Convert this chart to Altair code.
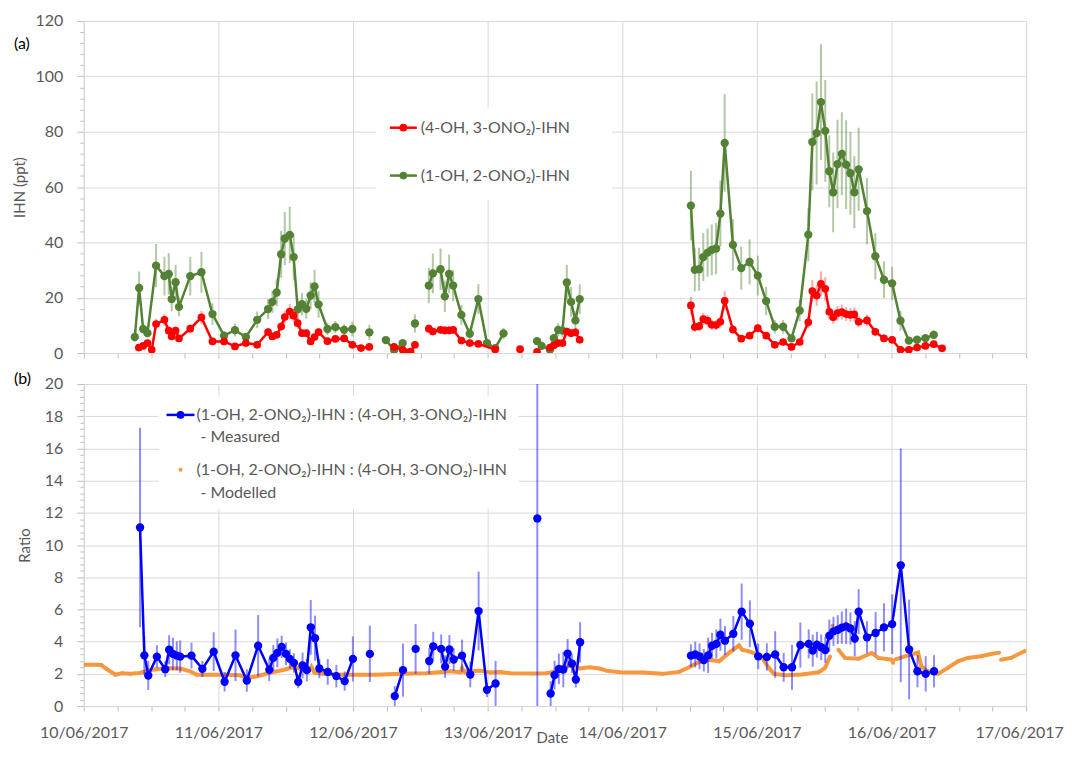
import altair as alt
import pandas as pd

FONT = "Lato"
GRAY = "#595959"
GRID = "#d9d9d9"

DATE_LABELS = ["10/06/2017", "11/06/2017", "12/06/2017", "13/06/2017",
               "14/06/2017", "15/06/2017", "16/06/2017", "17/06/2017"]

# ---------------- panel (a): IHN (ppt) ----------------
# days since 10/06/2017 00:00 ; None marks a gap in the line
RED_T = [0.409, 0.441, 0.473, 0.505, 0.537, 0.599, 0.631, 0.653, 0.682, 0.707, 0.791, 0.874, 0.956,
         1.042, 1.123, 1.204, 1.288, 1.369, 1.401, 1.433, 1.466, 1.493, 1.530, 1.559, 1.589, 1.621,
         1.653, 1.685, 1.714, 1.744, 1.810, 1.869, 1.934, 1.995, 2.059, 2.121, None,
         2.305, 2.369, 2.398, 2.428, 2.460, None,
         2.563, 2.593, 2.650, 2.682, 2.714, 2.744, 2.805, 2.867, 2.931, 3.056, None,
         3.241, None, 3.367, None,
         3.463, 3.492, 3.524, 3.556, 3.588, 3.620, 3.652, 3.684, None,
         4.510, 4.539, 4.571, 4.602, 4.634, 4.665, 4.697, 4.729, 4.761, 4.822, 4.884, 4.946, 5.007,
         5.069, 5.133, 5.195, 5.257, 5.318, 5.382, 5.412, 5.444, 5.476, 5.508, 5.538, 5.567, 5.599,
         5.631, 5.663, 5.695, 5.724, 5.756, 5.818, 5.880, 5.944, 6.005, 6.067, 6.129, 6.190, 6.252,
         6.314, 6.376]
RED_V = [2.0, 2.6, 3.6, 1.2, 10.5, 12.0, 8.1, 6.0, 8.1, 5.3, 8.8, 12.9, 4.2,
         4.2, 2.4, 3.6, 3.0, 7.6, 6.0, 6.6, 9.6, 13.0, 15.0, 13.5, 10.8, 7.2,
         7.2, 4.2, 5.8, 7.6, 4.3, 5.1, 5.3, 3.0, 1.8, 2.2, None,
         2.2, 1.2, 0.3, 0.5, 3.0, None,
         8.8, 7.8, 8.4, 8.2, 8.2, 8.4, 4.5, 3.6, 3.3, 1.3, None,
         1.4, None, 0.4, None,
         2.0, 2.8, 3.6, 3.6, 7.8, 7.2, 7.5, 4.8, None,
         17.2, 9.4, 9.7, 12.3, 11.7, 10.2, 10.1, 11.3, 18.9, 8.5, 5.2, 6.3, 9.0,
         6.3, 3.0, 4.0, 2.2, 4.0, 11.1, 22.4, 20.8, 25.0, 23.2, 14.9, 12.9, 14.4,
         14.8, 14.1, 13.8, 14.0, 11.3, 11.8, 7.7, 5.3, 4.8, 1.2, 1.2, 2.0, 2.6,
         3.2, 1.7]
RED_E = [0.4, 0.5, 0.7, 0.3, 1.9, 2.2, 1.5, 1.1, 1.5, 1.0, 1.6, 2.3, 0.8,
         0.8, 0.5, 0.7, 0.6, 1.4, 1.1, 1.2, 1.7, 2.3, 2.7, 2.4, 1.9, 1.3,
         1.3, 0.8, 1.0, 1.4, 0.8, 0.9, 1.0, 0.6, 0.4, 0.4, None,
         0.4, 0.3, 0.2, 0.2, 0.6, None,
         1.6, 1.4, 1.5, 1.5, 1.5, 1.5, 0.8, 0.7, 0.6, 0.3, None,
         0.3, None, 0.2, None,
         0.4, 0.5, 0.7, 0.7, 1.4, 1.3, 1.4, 0.9, None,
         3.1, 1.7, 1.7, 2.2, 2.1, 1.8, 1.8, 2.0, 3.4, 1.5, 0.9, 1.1, 1.6,
         1.1, 0.6, 0.7, 0.4, 0.7, 2.0, 4.0, 3.7, 4.5, 4.2, 2.7, 2.3, 2.6,
         2.7, 2.5, 2.5, 2.5, 2.0, 2.1, 1.4, 1.0, 0.9, 0.3, 0.3, 0.4, 0.5,
         0.6, 0.3]

GREEN_T = [0.379, 0.411, 0.441, 0.473, 0.537, 0.599, 0.631, 0.653, 0.682, 0.707, 0.791, 0.874,
           0.956, 1.042, 1.123, 1.204, 1.288, 1.369, 1.401, 1.433, 1.466, 1.493, 1.530, 1.559,
           1.589, 1.621, 1.653, 1.685, 1.714, 1.744, 1.810, 1.869, 1.934, 1.995, None,
           2.121, None, 2.244, 2.305, 2.369, None, 2.460, None,
           2.563, 2.593, 2.650, 2.682, 2.714, 2.744, 2.805, 2.867, 2.931, 2.995, 3.056, 3.118, None,
           3.367, 3.401, 3.463, 3.492, 3.524, 3.556, 3.588, 3.620, 3.652, 3.684, None,
           4.510, 4.539, 4.571, 4.602, 4.634, 4.665, 4.697, 4.729, 4.761, 4.822, 4.884, 4.946,
           5.007, 5.069, 5.133, 5.195, 5.257, 5.318, 5.382, 5.412, 5.444, 5.476, 5.508, 5.538,
           5.567, 5.599, 5.631, 5.663, 5.695, 5.724, 5.756, 5.818, 5.880, 5.944, 6.005, 6.067,
           6.129, 6.190, 6.252, 6.314]
GREEN_V = [5.8, 23.5, 8.7, 7.2, 31.6, 27.8, 28.6, 19.5, 25.6, 16.7, 27.8, 29.2,
           14.1, 6.3, 8.3, 5.8, 12.0, 15.9, 18.5, 21.9, 35.7, 41.4, 42.7, 34.7,
           15.8, 17.7, 16.0, 20.8, 24.1, 17.6, 8.7, 9.4, 8.4, 8.7, None,
           7.5, None, 4.7, 1.1, 3.6, None, 10.7, None,
           24.4, 28.8, 30.3, 20.5, 28.6, 24.4, 13.8, 7.0, 19.5, 3.6, 1.8, 7.1, None,
           4.3, 2.6, 1.2, 5.4, 8.4, 8.1, 25.5, 18.5, 11.8, 19.5, None,
           53.3, 30.1, 30.3, 34.7, 36.3, 37.3, 37.8, 50.4, 75.9, 39.1, 30.7, 32.9,
           28.0, 18.8, 9.5, 9.5, 5.3, 15.4, 42.8, 76.3, 79.5, 90.7, 80.3, 65.7,
           58.1, 68.3, 72.0, 68.1, 65.0, 58.1, 66.4, 51.3, 35.0, 26.5, 25.2, 11.7,
           4.5, 4.8, 5.4, 6.6]
GREEN_E = [1.6, 6.0, 1.5, 1.5, 7.8, 7.0, 7.5, 4.5, 6.3, 3.4, 7.0, 7.4,
           3.9, 1.5, 2.3, 1.4, 3.0, 3.6, 4.0, 5.0, 8.5, 9.6, 10.2, 8.4,
           3.6, 4.0, 3.6, 4.8, 6.0, 4.8, 2.2, 2.2, 2.0, 2.7, None,
           2.7, None, 1.0, 0.5, 1.0, None, 3.3, None,
           6.3, 7.2, 7.5, 5.7, 7.0, 5.7, 3.6, 2.0, 5.4, 1.0, 0.6, 2.0, None,
           1.2, 0.8, 0.4, 1.5, 2.4, 2.2, 6.3, 5.4, 3.3, 5.4, None,
           12.6, 7.8, 7.8, 8.7, 8.7, 9.2, 9.3, 12.0, 17.6, 9.3, 7.8, 8.1,
           7.2, 5.1, 2.4, 2.4, 1.3, 3.9, 9.6, 17.5, 18.6, 20.9, 18.4, 13.0,
           14.4, 16.0, 15.0, 16.0, 15.0, 13.0, 15.0, 12.0, 8.4, 6.6, 6.0, 3.6,
           1.2, 1.2, 1.3, 1.7]

# ---------------- panel (b): ratio ----------------
BLUE_T = [0.418, 0.450, 0.479, 0.543, 0.605, 0.634, 0.662, 0.691, 0.716, 0.800, 0.881, 0.965,
          1.046, 1.127, 1.211, 1.295, 1.378, 1.408, 1.438, 1.470, 1.502, 1.531, 1.561, 1.593,
          1.625, 1.657, 1.686, 1.718, 1.750, 1.812, 1.876, 1.938, 1.999, None,
          2.125, None, 2.310, 2.371, None, 2.465, None,
          2.566, 2.596, 2.655, 2.684, 2.716, 2.748, 2.810, 2.871, 2.933, 2.995, 3.059, None,
          3.369, None,
          3.468, 3.497, 3.529, 3.562, 3.594, 3.626, 3.655, 3.687, None,
          4.510, 4.542, 4.574, 4.606, 4.638, 4.667, 4.699, 4.729, 4.763, 4.825, 4.887, 4.948,
          5.010, 5.074, 5.136, 5.199, 5.261, 5.323, 5.385, 5.415, 5.446, 5.478, 5.508, 5.538,
          5.569, 5.601, 5.631, 5.663, 5.695, 5.727, 5.756, 5.818, 5.882, 5.944, 6.005, 6.069,
          6.131, 6.193, 6.254, 6.316]
BLUE_V = [11.09, 3.15, 1.90, 3.07, 2.29, 3.50, 3.24, 3.13, 3.07, 3.13, 2.31, 3.38,
          1.51, 3.15, 1.59, 3.75, 2.25, 2.99, 3.30, 3.67, 3.24, 2.93, 2.68, 1.51,
          2.52, 2.23, 4.89, 4.21, 2.33, 2.12, 1.86, 1.55, 2.93, None,
          3.24, None, 0.62, 2.23, None, 3.55, None,
          2.80, 3.71, 3.55, 2.45, 3.51, 2.89, 3.13, 1.96, 5.90, 1.01, 1.40, None,
          11.65, None,
          0.78, 1.92, 2.31, 2.27, 3.26, 2.64, 1.65, 3.96, None,
          3.13, 3.20, 3.09, 2.85, 3.15, 3.75, 3.86, 4.43, 4.06, 4.49, 5.86, 5.11,
          3.09, 3.05, 3.20, 2.41, 2.41, 3.79, 3.86, 3.44, 3.81, 3.65, 3.48, 4.37,
          4.64, 4.74, 4.87, 4.95, 4.82, 4.19, 5.86, 4.27, 4.54, 4.89, 5.09, 8.74,
          3.51, 2.16, 2.00, 2.16]
BLUE_E = [6.2, 1.2, 0.9, 0.7, 0.5, 0.9, 1.0, 0.9, 1.0, 0.8, 0.5, 1.2,
          0.6, 1.6, 0.7, 1.9, 0.7, 0.8, 0.9, 0.7, 0.7, 0.6, 0.6, 0.4,
          0.8, 0.7, 1.7, 1.4, 0.6, 0.8, 0.7, 0.6, 1.4, None,
          1.75, None, 0.62, 1.65, None, 1.55, None,
          0.8, 0.9, 0.9, 0.7, 0.9, 0.7, 1.0, 0.8, 2.45, 0.45, 1.4, None,
          11.65, None,
          0.78, 0.9, 0.95, 1.1, 0.9, 0.6, 0.5, 1.25, None,
          0.7, 0.8, 0.8, 0.7, 1.1, 0.8, 0.9, 1.0, 0.9, 1.1, 1.75, 1.45,
          0.8, 0.85, 1.45, 0.9, 1.4, 1.4, 0.9, 1.0, 0.8, 0.8, 0.8, 1.0,
          0.9, 0.9, 1.0, 1.1, 1.0, 1.1, 1.4, 1.0, 1.3, 1.5, 1.85, 7.25,
          3.1, 1.0, 1.1, 1.0]

ORANGE_T = [0.0, 0.10, 0.13, 0.17, 0.235, 0.285, 0.346, 0.42, 0.48, 0.568, 0.642, 0.716, 0.79,
            0.839, 0.937, 1.06, 1.16, 1.221, 1.295, 1.38, 1.48, 1.553, 1.603, 1.652, 1.676,
            1.69, 1.713, 1.775, 1.923, 2.169, 2.354, 2.551, 2.723, 2.80, 2.81, 2.83, 2.847,
            2.945, 3.02, 3.093, 3.167, 3.339, 3.438, 3.537, 3.623, 3.685, 3.758, 3.832, 3.882,
            3.98, 4.153, 4.3, 4.423, 4.497, 4.571, 4.645, 4.719, 4.793, 4.867, 4.89, 4.941,
            4.99, 5.039, 5.089, 5.126, 5.212, 5.335, 5.458, 5.507, 5.544, None,
            5.552, None, 5.556, None, 5.561, None,
            5.606, 5.655, 5.754, 5.853, 5.902, 6.001, 6.013, None,
            6.03, 6.1, 6.197, 6.222, 6.271, 6.345, 6.419, 6.493, 6.567, 6.665, 6.739, 6.8, None,
            6.813, 6.887, 6.986, 7.0]
ORANGE_V = [2.57, 2.57, 2.55, 2.3, 1.95, 2.04, 2.0, 2.06, 2.22, 2.31, 2.35, 2.33, 2.16,
            1.95, 1.95, 1.95, 1.91, 1.75, 1.87, 2.06, 2.24, 2.41, 2.33, 2.47, 2.27,
            2.45, 2.08, 2.0, 1.95, 1.95, 2.0, 2.04, 2.16, 2.1, 2.35, 2.1, 2.16,
            2.2, 2.08, 2.12, 2.04, 2.02, 2.04, 2.2, 2.58, 2.33, 2.41, 2.33, 2.2,
            2.1, 2.08, 2.0, 2.12, 2.41, 2.74, 2.88, 2.78, 3.30, 3.77, 3.5, 3.4,
            3.25, 2.99, 2.37, 2.0, 1.91, 1.96, 2.10, 2.37, 3.09, None,
            4.3, None, 4.7, None, 5.0, None,
            3.50, 2.99, 2.94, 3.30, 2.99, 2.88, 2.68, None,
            2.9, 3.09, 3.32, 2.47, 2.16, 2.0, 2.37, 2.78, 2.99, 3.09, 3.23, 3.32, None,
            2.88, 2.99, 3.40, 3.42]

LEGEND_A = ["(4-OH, 3-ONO\u2082)-IHN", "(1-OH, 2-ONO\u2082)-IHN"]
LEGEND_B = ["(1-OH, 2-ONO\u2082)-IHN : (4-OH, 3-ONO\u2082)-IHN", "- Measured",
            "(1-OH, 2-ONO\u2082)-IHN : (4-OH, 3-ONO\u2082)-IHN", "- Modelled"]

RED, GREEN, BLUE, ORANGE = "#ff0000", "#548235", "#0000ff", "#f7973f"

W = 945
H1 = 333
H2 = 323


def frame(T, V, E=None):
    rows, seg = [], 0
    for i, (t, v) in enumerate(zip(T, V)):
        if v is None:
            seg += 1
            continue
        row = {"t": t, "v": v, "seg": seg}
        if E is not None:
            row["lo"] = max(v - E[i], 0)
            row["hi"] = v + E[i]
        rows.append(row)
    return pd.DataFrame(rows)


x_scale = alt.Scale(domain=[0, 7], nice=False, zero=False)
x_vals = [i * 0.25 for i in range(29)]
labels_js = "[" + ",".join("'" + s + "'" for s in DATE_LABELS) + "]"


def x_axis(show_labels):
    return alt.Axis(
        values=x_vals,
        labelExpr=("datum.value % 1 === 0 ? " + labels_js + "[round(datum.value)] : ''")
        if show_labels else "''",
        labelOverlap=False, labelFlush=False,
        labelOffset={"condition": {"test": "datum.value === 7", "value": -7}, "value": 0},
        gridOpacity={"condition": {"test": "datum.value % 1 === 0", "value": 1}, "value": 0},
        gridColor=GRID, domainColor=GRID, tickColor="#bfbfbf", tickSize=5,
        labelFontSize=16, labelColor=GRAY, labelFont=FONT, labelPadding=14,
        title=None,
    )


def y_axis(vals, major, title, tpad):
    test = "datum.value % " + str(major) + " === 0"
    return alt.Axis(
        values=vals,
        labelExpr=test + " ? format(datum.value, 'd') : ''",
        labelOverlap=False, labelFlush=False,
        gridOpacity={"condition": {"test": test, "value": 1}, "value": 0},
        tickSize={"condition": {"test": test, "value": 7}, "value": 4},
        gridColor=GRID, domainColor=GRID, tickColor="#bfbfbf",
        labelFontSize=16, labelColor=GRAY, labelFont=FONT, labelPadding=14,
        title=title, titleFontSize=15, titleColor=GRAY, titleFont=FONT,
        titleFontWeight="normal", titlePadding=tpad,
    )


def panel_layers(df, color, y_scale, yax, with_err, size, err_op):
    X = alt.X("t:Q", scale=x_scale, axis=yax[0])
    layers = []
    if with_err:
        layers.append(alt.Chart(df).mark_rule(color=color, strokeWidth=2, opacity=err_op, clip=True).encode(
            x=X, y=alt.Y("lo:Q", scale=y_scale, axis=yax[1]), y2="hi:Q"))
    layers.append(alt.Chart(df).mark_line(color=color, strokeWidth=2.5, clip=True).encode(
        x=X, y=alt.Y("v:Q", scale=y_scale, axis=yax[1]), detail="seg:N"))
    layers.append(alt.Chart(df).mark_circle(color=color, size=size, opacity=1, clip=True).encode(
        x=X, y=alt.Y("v:Q", scale=y_scale, axis=yax[1])))
    return layers


one = pd.DataFrame({"k": [0]})


def txt(s, x, y, size=16, color=GRAY, align="left"):
    return alt.Chart(one).mark_text(text=s, align=align, baseline="middle", font=FONT,
                                    fontSize=size, color=color).encode(x=alt.value(x), y=alt.value(y))


def box(x1, x2, y1, y2):
    return alt.Chart(one).mark_rect(fill="white").encode(
        x=alt.value(x1), x2=alt.value(x2), y=alt.value(y1), y2=alt.value(y2))


def sample(color, x1, x2, y, with_line=True, size=60):
    out = []
    if with_line:
        out.append(alt.Chart(one).mark_rule(color=color, strokeWidth=2.5).encode(
            x=alt.value(x1), x2=alt.value(x2), y=alt.value(y)))
    out.append(alt.Chart(one).mark_circle(color=color, size=size, opacity=1).encode(
        x=alt.value((x1 + x2) / 2), y=alt.value(y)))
    return out


# ---- top panel ----
ys_top = alt.Scale(domain=[0, 120], nice=False)
axes_top = (x_axis(False), y_axis([i * 4 for i in range(31)], 20, "IHN (ppt)", 8))
top_layers = []
top_layers += panel_layers(frame(GREEN_T, GREEN_V, GREEN_E), GREEN, ys_top, axes_top, True, 70, 0.45)
top_layers += panel_layers(frame(RED_T, RED_V, RED_E), RED, ys_top, axes_top, True, 60, 0.35)
top_layers += [box(293, 530, 87, 179)]
top_layers += sample(RED, 307, 334, 107)
top_layers += [txt(LEGEND_A[0], 338, 107)]
top_layers += sample(GREEN, 307, 334, 155)
top_layers += [txt(LEGEND_A[1], 338, 155)]
top_layers += [txt("(a)", -70, 23, 16, "#000000")]
top = alt.layer(*top_layers).properties(width=W, height=H1)

# ---- bottom panel ----
ys_bot = alt.Scale(domain=[0, 20], nice=False)
axes_bot = (x_axis(True), y_axis([round(i * 0.4, 1) for i in range(51)], 2, "Ratio", 12))
bot_layers = []
od = frame(ORANGE_T, ORANGE_V)
X_b = alt.X("t:Q", scale=x_scale, axis=axes_bot[0])
bot_layers.append(alt.Chart(od).mark_line(color=ORANGE, strokeWidth=4, clip=True).encode(
    x=X_b, y=alt.Y("v:Q", scale=ys_bot, axis=axes_bot[1]), detail="seg:N"))
bot_layers.append(alt.Chart(od).mark_circle(color=ORANGE, size=14, opacity=1, clip=True).encode(
    x=X_b, y=alt.Y("v:Q", scale=ys_bot, axis=axes_bot[1])))
bot_layers += panel_layers(frame(BLUE_T, BLUE_V, BLUE_E), BLUE, ys_bot, axes_bot, True, 70, 0.45)
bot_layers += [box(75, 436, 12, 125)]
bot_layers += sample(BLUE, 83, 111, 31)
bot_layers += [txt(LEGEND_B[0], 113, 31), txt(LEGEND_B[1], 117, 53)]
bot_layers += sample(ORANGE, 83, 111, 86, with_line=False, size=16)
bot_layers += [txt(LEGEND_B[2], 113, 86), txt(LEGEND_B[3], 117, 109)]
bot_layers += [txt("(b)", -70, -5, 16, "#000000")]
bot_layers += [txt("Date", 470, 32 + H2, 15, GRAY, "center")]
bottom = alt.layer(*bot_layers).properties(width=W, height=H2)

chart = alt.vconcat(top, bottom, spacing=31, bounds="flush").properties(
    padding={"left": 3, "top": 3, "right": 0, "bottom": 0}
).configure_view(stroke=None).configure(font=FONT)

chart.save("out.html", embed_options={"renderer": "svg", "actions": False})
